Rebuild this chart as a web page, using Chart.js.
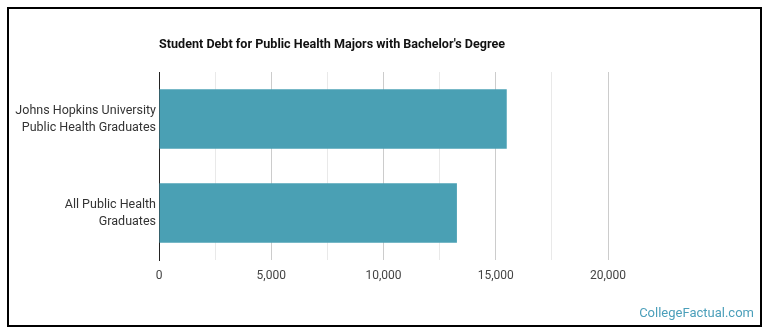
<!DOCTYPE html>
<html>
<head>
<meta charset="utf-8">
<script src="https://cdn.jsdelivr.net/npm/chart.js@4.4.1/dist/chart.umd.min.js"></script>
<style>
  body { margin: 0; background: #fff; font-family: Roboto, sans-serif; }
  #box { position: absolute; left: 7px; top: 7px; width: 751px; height: 316px; border: 2px solid #000; }
  #chart { display: block; }
  #mark { position: absolute; right: 6px; bottom: 5px; font: 13px Roboto, sans-serif; color: #4b9fba; }
</style>
</head>
<body>
<div id="box">
  <canvas id="chart" width="751" height="316"></canvas>
  <div id="mark">CollegeFactual.com</div>
</div>
<script>
const chartTitle = "Student Debt for Public Health Majors with Bachelor's Degree";
const categories = [
  ['Johns Hopkins University', 'Public Health Graduates'],
  ['All Public Health', 'Graduates']
];
const debt = [15490, 13270];
const xTicks = [0, 5000, 10000, 15000, 20000];
const barColor = '#4aa0b4';

// title drawn at the left of the plot area, squeezed like the condensed original
const titlePlugin = {
  id: 'leftTitle',
  afterDraw(chart) {
    const ctx = chart.ctx;
    ctx.save();
    ctx.font = 'bold 12.5px Roboto';
    ctx.fillStyle = '#111';
    ctx.textBaseline = 'middle';
    const w = ctx.measureText(chartTitle).width;
    const sx = 346 / w;
    ctx.translate(chart.chartArea.left, 36);
    ctx.scale(sx, 1);
    ctx.fillText(chartTitle, 0, 0);
    ctx.restore();
  }
};

const ctx = document.getElementById('chart');
const myChart = new Chart(ctx, {
  type: 'bar',
  data: {
    labels: categories,
    datasets: [{
      data: debt,
      backgroundColor: barColor,
      borderWidth: 0,
      barPercentage: 0.635,
      categoryPercentage: 1
    }]
  },
  options: {
    indexAxis: 'y',
    responsive: false,
    animation: false,
    layout: { padding: { top: 63, right: 152, left: 0, bottom: 0 } },
    plugins: { legend: { display: false }, tooltip: { enabled: false }, title: { display: false } },
    scales: {
      x: {
        min: 0,
        max: xTicks[xTicks.length - 1],
        border: { display: false },
        grid: {
          drawTicks: false,
          color: (c) => (c.tick && c.tick.value % 5000 === 0) ? '#cccccc' : '#e9e9e9'
        },
        ticks: {
          stepSize: 2500,
          padding: 9,
          color: '#444',
          font: { family: 'Roboto', size: 12 },
          maxRotation: 0,
          autoSkip: false,
          callback: (v) => xTicks.includes(v) ? v.toLocaleString('en-US') : ''
        },
        afterFit(scale) { scale.height = 65; }
      },
      y: {
        border: { display: true, color: '#222', width: 1 },
        grid: { display: false, drawTicks: false },
        ticks: {
          padding: 3,
          color: '#333',
          font: { family: 'Roboto', size: 12.5, lineHeight: 1.38 }
        },
        afterFit(scale) { scale.width = 150; }
      }
    }
  },
  plugins: [titlePlugin]
});
</script>
</body>
</html>
